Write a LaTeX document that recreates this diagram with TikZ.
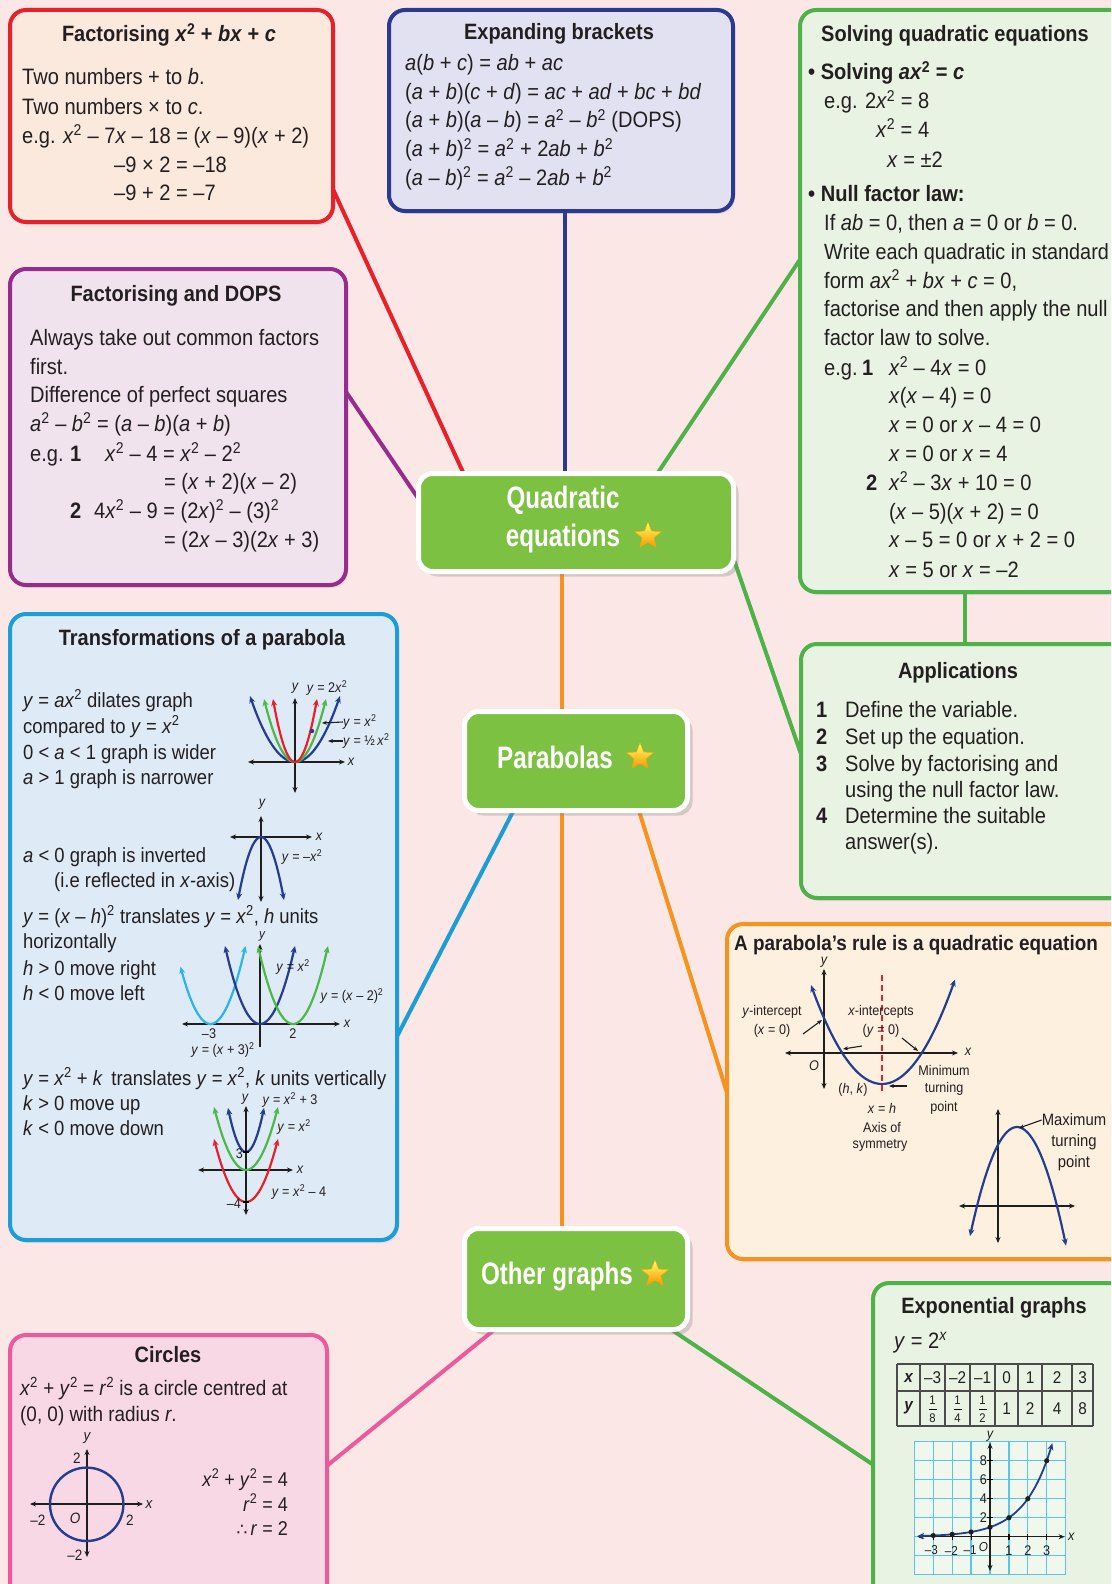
\documentclass[tikz,border=0pt]{standalone}
\usepackage{fontspec}
\setmainfont[FakeStretch=0.9]{Liberation Sans}
\newfontfamily\condf[FakeStretch=0.78]{Liberation Sans}
\newfontfamily\djv{DejaVu Sans}
\usetikzlibrary{shapes.geometric,shadows,arrows.meta}
\definecolor{bgc}{RGB}{251,231,229}
\definecolor{cred}{RGB}{232,32,42}
\definecolor{fred}{RGB}{252,233,222}
\definecolor{cnavy}{RGB}{43,57,144}
\definecolor{fnavy}{RGB}{226,225,241}
\definecolor{cgreen}{RGB}{77,178,72}
\definecolor{fgreen}{RGB}{232,243,227}
\definecolor{cpurp}{RGB}{150,45,140}
\definecolor{fpurp}{RGB}{241,227,238}
\definecolor{ccyan}{RGB}{27,157,216}
\definecolor{fcyan}{RGB}{222,234,246}
\definecolor{corange}{RGB}{246,146,30}
\definecolor{forange}{RGB}{254,240,223}
\definecolor{cpink}{RGB}{236,90,155}
\definecolor{fpink}{RGB}{249,216,230}
\definecolor{ngreen}{RGB}{125,193,66}
\definecolor{gblue}{RGB}{35,61,145}
\definecolor{gcyan}{RGB}{41,181,232}
\definecolor{ggreen}{RGB}{77,184,72}
\definecolor{gridc}{RGB}{90,195,238}
\definecolor{txtc}{RGB}{35,31,32}
\definecolor{axc}{RGB}{30,30,30}
\newcommand\vv[1]{\textit{#1}}
\newcommand\sps[1]{\textsuperscript{#1}}
\tikzset{
 box/.style={rectangle, rounded corners=16pt, line width=4pt, anchor=north west, inner sep=0pt,
   drop shadow={shadow xshift=2pt,shadow yshift=-3pt,opacity=0.15}},
 hub/.style={rectangle, rounded corners=14pt, fill=ngreen, draw=white, line width=5pt, anchor=north west, inner sep=0pt,
   drop shadow={shadow xshift=5pt,shadow yshift=-5pt,opacity=0.3}},
 hubtxt/.style={text=white, font=\condf\bfseries\fontsize{31}{38}\selectfont, inner sep=0pt, align=center},
 star5/.style={star, star points=5, star point ratio=2.3, minimum size=28pt, inner sep=0pt,
   top color=yellow!60!white, bottom color=orange!85!yellow, draw=orange!70!yellow, line width=0.4pt},
 link/.style={line width=4pt},
 txt/.style={anchor=base west, inner sep=0pt, text=txtc, font=\fontsize{22.3}{26}\selectfont},
 ttl/.style={anchor=base, inner sep=0pt, text=txtc, font=\bfseries\fontsize{22.2}{26}\selectfont},
 ttxt/.style={anchor=base west, inner sep=0pt, text=txtc, font=\fontsize{20.5}{24}\selectfont},
 lbl/.style={inner sep=0pt, text=txtc, font=\fontsize{14}{16}\selectfont},
 ax/.style={line width=1.4pt, draw=axc, {Stealth[length=6pt,width=5pt]}-{Stealth[length=6pt,width=5pt]}},
 axup/.style={line width=1.4pt, draw=axc, -{Stealth[length=6pt,width=5pt]}},
 crv/.style={line width=2.2pt, {Stealth[length=7pt,width=6pt]}-{Stealth[length=7pt,width=6pt]}},
 ptr/.style={line width=1.1pt, draw=axc, -{Stealth[length=5pt,width=4pt]}},
}
\begin{document}
\begin{tikzpicture}[x=1pt,y=-1pt]
\clip (0,0) rectangle (1111,1584);
\fill[bgc] (0,0) rectangle (1111,1584);

% ---------- connector end points ----------
\coordinate (L1a) at (326,174);  \coordinate (L1b) at (468,483);
\coordinate (L2a) at (565,200);  \coordinate (L2b) at (565,480);
\coordinate (L3a) at (805,252);  \coordinate (L3b) at (653,480);
\coordinate (L4a) at (338,380);  \coordinate (L4b) at (422,504);
\coordinate (L5a) at (724,531);  \coordinate (L5b) at (802,757);
\coordinate (L6a) at (965,585);  \coordinate (L6b) at (965,648);
\coordinate (L7a) at (562,560);  \coordinate (L7b) at (562,1232);
\coordinate (L8a) at (520,798);  \coordinate (L8b) at (390,1050);
\coordinate (L9a) at (635,798);  \coordinate (L9b) at (728,1096);
\coordinate (L10a) at (505,1321); \coordinate (L10b) at (318,1473);
\coordinate (L11a) at (660,1322); \coordinate (L11b) at (878,1468);
\draw[link,cred] (L1a) -- (L1b);
\draw[link,cnavy] (L2a) -- (L2b);
\draw[link,cgreen] (L3a) -- (L3b);
\draw[link,cpurp] (L4a) -- (L4b);
\draw[link,cgreen] (L5a) -- (L5b);
\draw[link,cgreen] (L6a) -- (L6b);
\draw[link,corange] (L7a) -- (L7b);
\draw[link,ccyan] (L8a) -- (L8b);
\draw[link,corange] (L9a) -- (L9b);
\draw[link,cpink] (L10a) -- (L10b);
\draw[link,cgreen] (L11a) -- (L11b);

% ---------- boxes ----------
\node[box, draw=cred, fill=fred, minimum width=323pt, minimum height=212pt] (fact) at (8,8) {};
\node[box, draw=cnavy, fill=fnavy, minimum width=344pt, minimum height=201pt] (expand) at (387,8) {};
\node[box, draw=cgreen, fill=fgreen, minimum width=327pt, minimum height=582pt] (solve) at (798,8) {};
\node[box, draw=cpurp, fill=fpurp, minimum width=336pt, minimum height=316pt] (dops) at (8,267) {};
\node[box, draw=ccyan, fill=fcyan, minimum width=387pt, minimum height=626pt] (trans) at (8,612) {};
\node[box, draw=cgreen, fill=fgreen, minimum width=326pt, minimum height=254pt] (apps) at (799,642) {};
\node[box, draw=corange, fill=forange, minimum width=400pt, minimum height=335pt] (rule) at (725,922) {};
\node[box, draw=cpink, fill=fpink, minimum width=317pt, minimum height=270pt] (circ) at (8,1333) {};
\node[box, draw=cgreen, fill=fgreen, minimum width=254pt, minimum height=320pt] (expo) at (871,1281) {};

% ---------- hubs ----------
\node[hub, minimum width=315pt, minimum height=98pt] (qe) at (416,471) {};
\node[hubtxt] (qeT) at (563,519) {Quadratic\\equations};
\node[star5] (qeS) at (648,536) {};
\node[hub, minimum width=223pt, minimum height=99pt] (par) at (462,709) {};
\node[hubtxt] (parT) at (555,757) {Parabolas};
\node[star5] (parS) at (640,757) {};
\node[hub, minimum width=223pt, minimum height=101pt] (oth) at (462,1226) {};
\node[hubtxt] (othT) at (557,1277) {Other graphs};
\node[star5] (othS) at (655,1274) {};

% ---------- Factorising x^2+bx+c ----------
\node[ttl] (f0) at (169,42) {Factorising \vv{x}\sps{2} + \vv{bx} + \vv{c}};
\node[txt] (f1) at (22,85) {Two numbers + to \vv{b}.};
\node[txt] (f2) at (22,114) {Two numbers × to \vv{c}.};
\node[txt] (f3) at (22,143) {e.g. \vv{x}\sps{2} – 7\vv{x} – 18 = (\vv{x} – 9)(\vv{x} + 2)};
\node[txt] (f4) at (114,172) {–9 × 2 = –18};
\node[txt] (f5) at (114,200) {–9 + 2 = –7};

% ---------- Expanding brackets ----------
\node[ttl] (e0) at (559,40) {Expanding brackets};
\node[txt] (e1) at (405,71) {\vv{a}(\vv{b} + \vv{c}) = \vv{ab} + \vv{ac}};
\node[txt] (e2) at (405,100) {(\vv{a} + \vv{b})(\vv{c} + \vv{d}) = \vv{ac} + \vv{ad} + \vv{bc} + \vv{bd}};
\node[txt] (e3) at (405,128) {(\vv{a} + \vv{b})(\vv{a} – \vv{b}) = \vv{a}\sps{2} – \vv{b}\sps{2} (DOPS)};
\node[txt] (e4) at (405,157) {(\vv{a} + \vv{b})\sps{2} = \vv{a}\sps{2} + 2\vv{ab} + \vv{b}\sps{2}};
\node[txt] (e5) at (405,185) {(\vv{a} – \vv{b})\sps{2} = \vv{a}\sps{2} – 2\vv{ab} + \vv{b}\sps{2}};

% ---------- Solving quadratic equations ----------
\node[ttl] (s0) at (955,42) {Solving quadratic equations};
\node[txt,font=\bfseries\fontsize{22.3}{26}\selectfont] (s1) at (808,80) {• Solving \vv{ax}\sps{2} = \vv{c}};
\node[txt] (s2) at (824,109) {e.g. 2\vv{x}\sps{2} = 8};
\node[txt] (s3) at (876,137) {\vv{x}\sps{2} = 4};
\node[txt] (s4) at (887,167) {\vv{x} = ±2};
\node[txt,font=\bfseries\fontsize{22.3}{26}\selectfont] (s5) at (808,201) {• Null factor law:};
\node[txt] (s6) at (824,230) {If \vv{ab} = 0, then \vv{a} = 0 or \vv{b} = 0.};
\node[txt,font=\fontsize{22}{26}\selectfont] (s7) at (824,259) {Write each quadratic in standard};
\node[txt] (s8) at (824,288) {form \vv{ax}\sps{2} + \vv{bx} + \vv{c} = 0,};
\node[txt] (s9) at (824,316) {factorise and then apply the null};
\node[txt] (s10) at (824,345) {factor law to solve.};
\node[txt] (s11) at (824,375) {e.g.};
\node[txt] (s12) at (862,375) {\textbf{1}};
\node[txt] (s13) at (889,375) {\vv{x}\sps{2} – 4\vv{x} = 0};
\node[txt] (s14) at (889,403) {\vv{x}(\vv{x} – 4) = 0};
\node[txt] (s15) at (889,432) {\vv{x} = 0 or \vv{x} – 4 = 0};
\node[txt] (s16) at (889,461) {\vv{x} = 0 or \vv{x} = 4};
\node[txt] (s17) at (866,490) {\textbf{2}};
\node[txt] (s18) at (889,490) {\vv{x}\sps{2} – 3\vv{x} + 10 = 0};
\node[txt] (s19) at (889,519) {(\vv{x} – 5)(\vv{x} + 2) = 0};
\node[txt] (s20) at (889,547) {\vv{x} – 5 = 0 or \vv{x} + 2 = 0};
\node[txt] (s21) at (889,577) {\vv{x} = 5 or \vv{x} = –2};

% ---------- Factorising and DOPS ----------
\node[ttl] (d0) at (176,301) {Factorising and DOPS};
\node[txt] (d1) at (30,345) {Always take out common factors};
\node[txt] (d2) at (30,374) {first.};
\node[txt] (d3) at (30,402) {Difference of perfect squares};
\node[txt] (d4) at (30,431) {\vv{a}\sps{2} – \vv{b}\sps{2} = (\vv{a} – \vv{b})(\vv{a} + \vv{b})};
\node[txt] (d5) at (30,461) {e.g.};
\node[txt] (d6) at (70,461) {\textbf{1}};
\node[txt] (d7) at (105,461) {\vv{x}\sps{2} – 4 = \vv{x}\sps{2} – 2\sps{2}};
\node[txt] (d8) at (164,489) {= (\vv{x} + 2)(\vv{x} – 2)};
\node[txt] (d9) at (70,518) {\textbf{2}};
\node[txt] (d10) at (94,518) {4\vv{x}\sps{2} – 9 = (2\vv{x})\sps{2} – (3)\sps{2}};
\node[txt] (d11) at (164,547) {= (2\vv{x} – 3)(2\vv{x} + 3)};

% ---------- Transformations of a parabola ----------
\node[ttl] (t0) at (202,645) {Transformations of a parabola};
\node[ttxt] (t1) at (23,707) {\vv{y} = \vv{ax}\sps{2} dilates graph};
\node[ttxt] (t2) at (23,733) {compared to \vv{y} = \vv{x}\sps{2}};
\node[ttxt] (t3) at (23,759) {0 < \vv{a} < 1 graph is wider};
\node[ttxt] (t4) at (23,784) {\vv{a} > 1 graph is narrower};
\node[ttxt] (t5) at (23,862) {\vv{a} < 0 graph is inverted};
\node[ttxt] (t6) at (54,887) {(i.e reflected in \vv{x}-axis)};
\node[ttxt] (t7) at (23,923) {\vv{y} = (\vv{x} – \vv{h})\sps{2} translates \vv{y} = \vv{x}\sps{2}, \vv{h} units};
\node[ttxt] (t8) at (23,948) {horizontally};
\node[ttxt] (t9) at (23,975) {\vv{h} > 0 move right};
\node[ttxt] (t10) at (23,1000) {\vv{h} < 0 move left};
\node[ttxt] (t11) at (23,1085) {\vv{y} = \vv{x}\sps{2} + \vv{k}\, translates \vv{y} = \vv{x}\sps{2}, \vv{k} units vertically};
\node[ttxt] (t12) at (23,1110) {\vv{k} > 0 move up};
\node[ttxt] (t13) at (23,1135) {\vv{k} < 0 move down};

% graph 1: dilations
\draw[ax] (248,762) -- (345,762);
\draw[ax] (295,793) -- (295,698);
\draw[crv,gblue] plot[smooth,domain=-45:45,samples=31] ({295+\x},{762-63*(\x/44)*(\x/44)});
\draw[crv,ggreen] plot[smooth,domain=-31:31,samples=31] ({295+\x},{762-63*(\x/31)*(\x/31)});
\draw[crv,cred] plot[smooth,domain=-22:22,samples=31] ({295+\x},{762-63*(\x/22)*(\x/22)});
\fill[gblue] (312,731) circle (2.2pt);
\node[lbl,font=\itshape\fontsize{14}{16}\selectfont] (g1y) at (295,688) {y};
\node[lbl] (g1a) at (327,688) {\vv{y} = 2\vv{x}\sps{2}};
\node[lbl,anchor=west] (g1b) at (343,722) {\vv{y} = \vv{x}\sps{2}};
\node[lbl,anchor=west] (g1c) at (343,741) {\vv{y} = ½\,\vv{x}\sps{2}};
\draw[ptr] (g1b.west) -- (322,723);
\draw[ptr] (g1c.west) -- (328,741);
\node[lbl,font=\itshape\fontsize{14}{16}\selectfont] (g1x) at (351,762) {x};

% graph 2: inverted
\draw[ax] (230,837) -- (312,837);
\draw[ax] (261,902) -- (261,816);
\draw[crv,gblue] plot[smooth,domain=-23:23,samples=31] ({261+\x},{837+63*(\x/23)*(\x/23)});
\node[lbl,font=\itshape\fontsize{14}{16}\selectfont] (g2y) at (262,804) {y};
\node[lbl,font=\itshape\fontsize{14}{16}\selectfont] (g2x) at (319,837) {x};
\node[lbl] (g2l) at (302,857) {\vv{y} = –\vv{x}\sps{2}};

% graph 3: horizontal translations
\draw[ax] (182,1024) -- (340,1024);
\draw[axup] (260,1047) -- (260,944);
\draw[crv,gcyan] plot[smooth,domain=-30:35,samples=31] ({210.5+\x},{1024-78*(\x/35)*(\x/35)});
\draw[crv,gblue] plot[smooth,domain=-35:35,samples=31] ({260+\x},{1024-78*(\x/35)*(\x/35)});
\draw[crv,ggreen] plot[smooth,domain=-35:35,samples=31] ({293+\x},{1024-78*(\x/35)*(\x/35)});
\node[lbl,font=\itshape\fontsize{13}{15}\selectfont] (g3y) at (262,936) {y};
\node[lbl,font=\itshape\fontsize{14}{16}\selectfont] (g3x) at (347,1024) {x};
\node[lbl] (g3a) at (293,967) {\vv{y} = \vv{x}\sps{2}};
\node[lbl] (g3b) at (352,996) {\vv{y} = (\vv{x} – 2)\sps{2}};
\node[lbl] (g3c) at (209,1034) {–3};
\node[lbl] (g3d) at (293,1034) {2};
\node[lbl] (g3e) at (223,1050) {\vv{y} = (\vv{x} + 3)\sps{2}};

% graph 4: vertical translations
\draw[ax] (198,1170) -- (293,1170);
\draw[ax] (246,1215) -- (246,1106);
\draw[crv,ggreen] plot[smooth,domain=-32:32,samples=31] ({246+\x},{1170-63*(\x/32)*(\x/32)});
\draw[crv,gblue] plot[smooth,domain=-18:18,samples=31] ({246+\x},{1152-44*(\x/18)*(\x/18)});
\draw[crv,cred] plot[smooth,domain=-32:32,samples=31] ({246+\x},{1202-63*(\x/32)*(\x/32)});
\draw[line width=1.4pt] (243,1152) -- (249,1152);
\draw[line width=1.4pt] (243,1202) -- (249,1202);
\node[lbl,font=\itshape\fontsize{14}{16}\selectfont] (g4y) at (245,1099) {y};
\node[lbl] (g4a) at (290,1100) {\vv{y} = \vv{x}\sps{2} + 3};
\node[lbl] (g4b) at (294,1127) {\vv{y} = \vv{x}\sps{2}};
\node[lbl] (g4c) at (299,1192) {\vv{y} = \vv{x}\sps{2} – 4};
\node[lbl,anchor=east] (g4d) at (243,1154) {3};
\node[lbl,anchor=east] (g4e) at (241,1204) {–4};
\node[lbl,font=\itshape\fontsize{14}{16}\selectfont] (g4x) at (300,1170) {x};

% ---------- Applications ----------
\node[ttl] (a0) at (958,678) {Applications};
\node[txt] (a1) at (816,717) {\textbf{1}};
\node[txt] (a2) at (845,717) {Define the variable.};
\node[txt] (a3) at (816,744) {\textbf{2}};
\node[txt] (a4) at (845,744) {Set up the equation.};
\node[txt] (a5) at (816,771) {\textbf{3}};
\node[txt] (a6) at (845,771) {Solve by factorising and};
\node[txt] (a7) at (845,797) {using the null factor law.};
\node[txt] (a8) at (816,823) {\textbf{4}};
\node[txt] (a9) at (845,823) {Determine the suitable};
\node[txt] (a10) at (845,849) {answer(s).};

% ---------- A parabola's rule ----------
\node[ttl,font=\bfseries\fontsize{21}{25}\selectfont] (r0) at (916,950) {A parabola’s rule is a quadratic equation};
\draw[ax] (785,1053) -- (958,1053);
\draw[ax] (824,1089) -- (824,969);
\draw[cred,dashed,line width=1.3pt,dash pattern=on 6pt off 4pt] (882,975) -- (882,1093);
\draw[crv,gblue] plot[smooth,domain=-71:73,samples=41] ({882+\x},{1084-0.0196*\x*\x});
\node[lbl,font=\itshape\fontsize{14}{16}\selectfont] (r1) at (824,962) {y};
\node[lbl,font=\itshape\fontsize{14}{16}\selectfont] (r2) at (968,1052) {x};
\node[lbl,font=\itshape\fontsize{14}{16}\selectfont] (r3) at (814,1066) {O};
\node[lbl] (r4) at (772,1012) {\vv{y}-intercept};
\node[lbl] (r5) at (772,1031) {(\vv{x} = 0)};
\draw[ptr] (803,1034) -- (822,1020);
\node[lbl] (r6) at (881,1012) {\vv{x}-intercepts};
\node[lbl] (r7) at (881,1031) {(\vv{y} = 0)};
\draw[ptr] (862,1046) -- (843,1049);
\draw[ptr] (902,1038) -- (918,1051);
\node[lbl] (r8) at (853,1090) {(\vv{h}, \vv{k})};
\draw[ptr,line width=1.5pt] (907,1086) -- (889,1086);
\node[lbl] (r9) at (882,1108) {\vv{x} = \vv{h}};
\node[lbl] (r10) at (882,1127) {Axis of};
\node[lbl] (r11) at (880,1145) {symmetry};
\node[lbl] (r12) at (944,1070) {Minimum};
\node[lbl] (r13) at (944,1089) {turning};
\node[lbl] (r14) at (944,1108) {point};
% maximum graph
\draw[ax] (959,1206) -- (1075,1206);
\draw[ax] (998,1243) -- (998,1109);
\draw[crv,gblue] plot[smooth,domain=-47:49,samples=41] ({1017+\x},{1127+0.0494*\x*\x});
\node[lbl,font=\fontsize{16.5}{19}\selectfont] (r15) at (1074,1120) {Maximum};
\node[lbl,font=\fontsize{16.5}{19}\selectfont] (r16) at (1074,1142) {turning};
\node[lbl,font=\fontsize{16.5}{19}\selectfont] (r17) at (1074,1163) {point};
\draw[ptr] (r15.west) -- (1019,1128);

% ---------- Circles ----------
\node[ttl] (c0) at (168,1362) {Circles};
\node[txt,font=\fontsize{21}{25}\selectfont] (c1) at (20,1395) {\vv{x}\sps{2} + \vv{y}\sps{2} = \vv{r}\sps{2} is a circle centred at};
\node[txt,font=\fontsize{21}{25}\selectfont] (c2) at (20,1421) {(0, 0) with radius \vv{r}.};
\draw[ax] (30,1504) -- (143,1504);
\draw[ax] (87,1557) -- (87,1449);
\draw[gblue,line width=2.4pt] (86.7,1504.3) circle (36.7pt);
\node[lbl,font=\itshape\fontsize{15}{17}\selectfont] (c3) at (87,1438) {y};
\node[lbl,font=\fontsize{15}{17}\selectfont] (c4) at (77,1458) {2};
\node[lbl,font=\itshape\fontsize{15}{17}\selectfont] (c5) at (149,1505) {x};
\node[lbl,font=\fontsize{15}{17}\selectfont] (c6) at (38,1520) {–2};
\node[lbl,font=\itshape\fontsize{15}{17}\selectfont] (c7) at (75,1518) {O};
\node[lbl,font=\fontsize{15}{17}\selectfont] (c8) at (130,1520) {2};
\node[lbl,font=\fontsize{15}{17}\selectfont] (c9) at (75,1555) {–2};
\node[txt,anchor=base east,font=\fontsize{20}{24}\selectfont] (c10) at (288,1486) {\vv{x}\sps{2} + \vv{y}\sps{2} = 4};
\node[txt,anchor=base east,font=\fontsize{20}{24}\selectfont] (c11) at (288,1511) {\vv{r}\sps{2} = 4};
\node[txt,anchor=base east,font=\fontsize{20}{24}\selectfont] (c12) at (288,1535) {{\djv\fontsize{17}{20}\selectfont ∴}\,\vv{r} = 2};

% ---------- Exponential graphs ----------
\node[ttl] (x0) at (994,1313) {Exponential graphs};
\node[txt] (x1) at (894,1348) {\vv{y} = 2\sps{\vv{x}}};
\foreach \cx in {897,920,945,970,995,1018,1042,1072,1093}
  \draw[line width=1.4pt,draw=axc!80] (\cx,1364) -- (\cx,1426);
\foreach \cy in {1364,1391,1426}
  \draw[line width=1.4pt,draw=axc!80] (897,\cy) -- (1093,\cy);
\node[lbl,font=\bfseries\itshape\fontsize{17}{19}\selectfont] (xt0) at (908.5,1378) {x};
\node[lbl,font=\bfseries\itshape\fontsize{17}{19}\selectfont] (xt1) at (908.5,1408) {y};
\node[lbl,font=\fontsize{17}{19}\selectfont] (xt2) at (932.5,1378) {–3};
\node[lbl,font=\fontsize{17}{19}\selectfont] (xt3) at (957.5,1378) {–2};
\node[lbl,font=\fontsize{17}{19}\selectfont] (xt4) at (982.5,1378) {–1};
\node[lbl,font=\fontsize{17}{19}\selectfont] (xt5) at (1006.5,1378) {0};
\node[lbl,font=\fontsize{17}{19}\selectfont] (xt6) at (1030,1378) {1};
\node[lbl,font=\fontsize{17}{19}\selectfont] (xt7) at (1057,1378) {2};
\node[lbl,font=\fontsize{17}{19}\selectfont] (xt8) at (1082.5,1378) {3};
\node[lbl,font=\fontsize{12.5}{14}\selectfont] (xf1) at (932.5,1400) {1};
\node[lbl,font=\fontsize{12.5}{14}\selectfont] (xf2) at (932.5,1418) {8};
\node[lbl,font=\fontsize{12.5}{14}\selectfont] (xf3) at (957.5,1400) {1};
\node[lbl,font=\fontsize{12.5}{14}\selectfont] (xf4) at (957.5,1418) {4};
\node[lbl,font=\fontsize{12.5}{14}\selectfont] (xf5) at (982.5,1400) {1};
\node[lbl,font=\fontsize{12.5}{14}\selectfont] (xf6) at (982.5,1418) {2};
\foreach \cx in {932.5,957.5,982.5}
  \draw[line width=0.9pt] (\cx-4,1409) -- (\cx+4,1409);
\node[lbl,font=\fontsize{17}{19}\selectfont] (xt9) at (1006.5,1409) {1};
\node[lbl,font=\fontsize{17}{19}\selectfont] (xt10) at (1030,1409) {2};
\node[lbl,font=\fontsize{17}{19}\selectfont] (xt11) at (1057,1409) {4};
\node[lbl,font=\fontsize{17}{19}\selectfont] (xt12) at (1082.5,1409) {8};
\begin{scope}[shift={(990,1536.7)},x=18.9pt,y=9.5pt]
  \fill[white,opacity=0.35] (-4,-4) rectangle (4,10);
  \draw[gridc,line width=1.3pt] (-4,-4) grid[xstep=1,ystep=2] (4,10);
  \draw[ax] (-3.85,0) -- (3.95,0);
  \draw[ax] (0,-3.6) -- (0,9.9);
  \foreach \t in {2,4,6,8} { \draw[line width=1.2pt] (-0.15,\t) -- (0.15,\t);
     \node[lbl,anchor=east] (ey\t) at (-0.15,\t) {\t}; }
  \foreach \t in {1,2,3} { \draw[line width=1.2pt] (\t,-0.3) -- (\t,0.3);
     \node[lbl] (ex\t) at (\t,-1.45) {\t}; }
  \foreach \t in {-3,-2,-1} { \draw[line width=1.2pt] (\t,-0.3) -- (\t,0.3); }
  \node[lbl,font=\fontsize{13}{15}\selectfont] (exm3) at (-3.1,-1.45) {–3};
  \node[lbl,font=\fontsize{13}{15}\selectfont] (exm2) at (-2.05,-1.45) {–2};
  \node[lbl,font=\fontsize{13}{15}\selectfont] (exm1) at (-1.05,-1.45) {–1};
  \node[lbl,font=\itshape\fontsize{13}{15}\selectfont] (eO) at (-0.35,-1.05) {O};
  \node[lbl,font=\itshape\fontsize{14}{16}\selectfont] (eyl) at (0,10.6) {y};
  \node[lbl,font=\itshape\fontsize{14}{16}\selectfont] (exl) at (4.3,0) {x};
  \draw[crv,gblue,line width=1.8pt] plot[smooth,domain=-3.85:3.3,samples=40] (\x,{2^(\x)});
  \foreach \t in {-3,-2,-1,0,1,2,3} \fill[axc] (\t,{2^(\t)}) circle (2.6pt);
\end{scope}
\end{tikzpicture}
\end{document}
